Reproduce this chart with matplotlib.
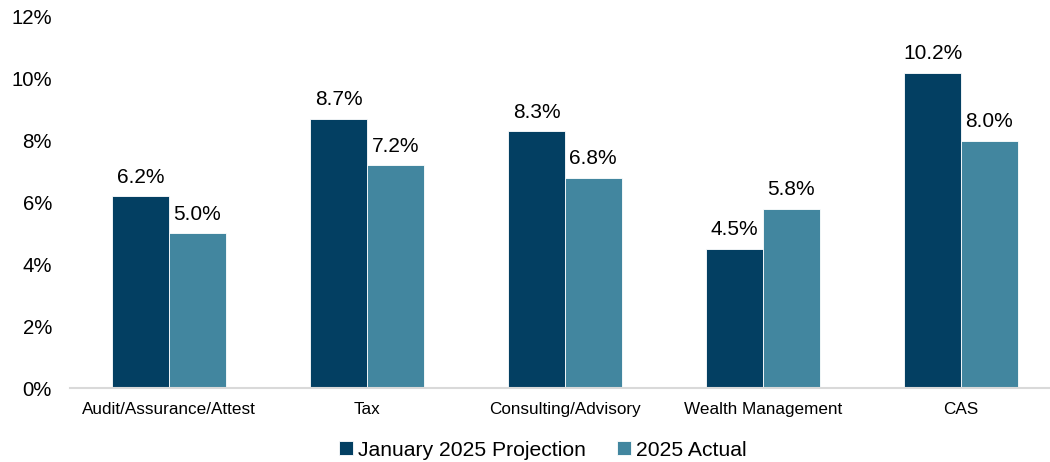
import numpy as np
import matplotlib.pyplot as plt
from matplotlib.ticker import FuncFormatter

plt.rcParams['font.family'] = ['Liberation Sans', 'DejaVu Sans']

categories = ["Audit/Assurance/Attest", "Tax", "Consulting/Advisory",
              "Wealth Management", "CAS"]
projection = [6.2, 8.7, 8.3, 4.5, 10.2]
actual = [5.0, 7.2, 6.8, 5.8, 8.0]
series_names = ["January 2025 Projection", "2025 Actual"]
colors = ["#033F62", "#42869F"]

fig = plt.figure(figsize=(10.5, 4.62), dpi=100)
ax = fig.add_axes([70 / 1050, 1 - 388 / 462, 1 - 70 / 1050, (388 - 17) / 462])

x = np.arange(len(categories))
w = 0.286
for i, (vals, name, c) in enumerate(zip([projection, actual], series_names, colors)):
    pos = x + (i - 0.5) * w
    bars = ax.bar(pos, vals, width=w, color=c, label=name,
                  edgecolor="white", linewidth=0.6)
    for b, v in zip(bars, vals):
        ax.annotate(f"{v:.1f}%", (b.get_x() + b.get_width() / 2, v),
                    xytext=(0, 7), textcoords="offset points",
                    ha="center", va="bottom", fontsize=15)

ax.set_ylim(0, 12)
ax.set_xlim(-0.5, 4.45)
ax.set_yticks(range(0, 13, 2))
ax.yaxis.set_major_formatter(FuncFormatter(lambda v, _: f"{v:.0f}%"))
ax.set_xticks(x)
ax.set_xticklabels(categories, fontsize=12.3)
ax.tick_params(axis="y", length=0, labelsize=14.7, pad=13)
ax.tick_params(axis="x", length=0, pad=10)

for s in ["top", "right", "left"]:
    ax.spines[s].set_visible(False)
ax.spines["bottom"].set_color("#D9D9D9")
ax.spines["bottom"].set_linewidth(1.5)

fig.legend(loc="center", bbox_to_anchor=(543 / 1050, 1 - 450 / 462),
           ncol=2, frameon=False, fontsize=15.2, handlelength=0.65,
           handleheight=0.65, handletextpad=0.25, columnspacing=1.5)

fig.savefig("out.png", dpi=100)
